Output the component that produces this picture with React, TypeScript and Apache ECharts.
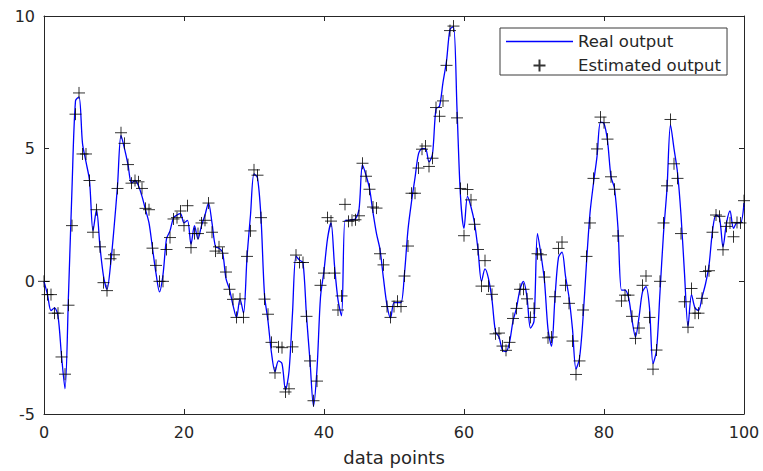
import React, { useEffect, useRef } from "react";
import * as echarts from "echarts";

// Sample spacing along the "data points" axis
const STEP = 0.5;

// Real output (blue line), one value per sample (x = 0, 0.5, ..., 100)
const realOutput = [
  0.0, -0.5, -1.1, -1.0, -1.3, -2.8, -4.05, -0.5, 3.5, 6.8,
  6.95, 5.2, 4.5, 3.8, 1.9, 2.7, 1.3, 0.2, -0.3, 0.6,
  2.0, 3.6, 5.5, 5.0, 4.4, 3.7, 3.8, 3.6, 3.2, 2.7,
  2.2, 1.25, 0.3, -0.4, 0.25, 1.6, 1.9, 2.4, 2.5, 2.55,
  2.2, 2.3, 1.4, 2.1, 1.6, 2.1, 2.5, 2.95, 2.2, 1.3,
  1.25, 1.1, 0.1, -0.3, -0.9, -1.36, -0.66, -1.2, 0.9, 2.5,
  4.05, 3.9, 2.4, -0.5, -1.5, -2.7, -3.4, -3.0, -3.1, -4.1,
  -3.4, -1.2, 0.95, 0.8, 0.7, -1.3, -3.0, -4.7, -3.3, -0.6,
  0.4, 1.6, 2.2, 0.6, -0.7, -1.3, 2.3, 2.3, 2.32, 2.35,
  2.7, 4.4, 4.0, 3.5, 2.6, 1.8, 1.2, 0.1, -0.9, -1.39,
  -0.8, -0.8, -0.8, 0.3, 1.95, 3.0, 3.9, 4.8, 5.0, 5.0,
  4.5, 4.8, 6.5, 6.6, 7.5, 8.3, 9.5, 9.6, 6.5, 3.2,
  2.0, 3.2, 2.8, 2.2, 1.2, 0.0, 0.47, 0.1, -0.7, -1.9,
  -2.1, -2.6, -2.65, -2.3, -1.5, -1.0, -0.3, 0.0, -0.6, -1.76,
  -1.5, 1.8, 1.0, 0.0, -1.8, -2.44, -0.6, 0.9, 1.1, 0.2,
  -0.6, -1.8, -3.3, -2.9, -1.4, 0.7, 2.57, 3.7, 4.7, 6.0,
  5.95, 5.3, 3.94, 3.5, 2.0, -0.33, -0.33, -0.6, -1.45, -2.1,
  -1.35, -0.4, -0.2, -1.0, -3.1, -2.6, -0.4, 1.8, 3.5, 5.9,
  5.0, 4.1, 2.5, 0.3, -1.7, -0.5, -1.0, -1.1, -0.6, -0.1,
  0.6, 1.9, 2.5, 2.4, 1.3, 2.2, 2.65, 2.0, 2.2, 2.2,
  2.95,
];

// Estimated output ("+" markers), one value per sample
const estimatedOutput = [
  0.0, -0.5, -0.5, -1.2, -1.2, -2.85, -3.5, -0.9, 2.1, 6.3,
  7.1, 4.8, 4.8, 3.8, 1.85, 2.7, 1.3, -0.05, -0.35, 0.85,
  1.0, 3.5, 5.6, 5.2, 4.4, 3.7, 3.8, 3.75, 3.5, 2.75,
  2.7, 1.25, 0.6, 0.0, 0.0, 1.2, 1.65, 2.35, 2.4, 2.65,
  2.1, 2.85, 1.27, 1.8, 1.8, 2.2, 2.3, 2.95, 1.85, 1.14,
  1.3, 1.06, 0.35, -0.3, -0.68, -1.36, -0.66, -1.36, 0.94, 1.9,
  4.2, 4.0, 2.4, -0.67, -1.24, -2.3, -3.45, -2.47, -2.5, -4.17,
  -4.05, -2.47, 0.99, 0.71, 0.71, -1.32, -3.0, -4.5, -3.76, -0.15,
  0.31, 2.4, 2.27, 0.31, -1.08, -0.55, 2.9, 2.26, 2.3, 2.32,
  2.47, 4.45, 3.96, 3.47, 2.8, 2.76, 1.04, 0.62, -0.95, -1.36,
  -0.95, -0.75, -0.95, 0.2, 1.33, 3.32, 3.32, 4.27, 4.98, 5.1,
  4.33, 4.64, 6.55, 6.22, 6.8, 8.14, 9.45, 9.62, 6.16, 3.5,
  1.72, 3.46, 3.07, 2.15, 1.2, -0.18, 0.78, -0.18, -0.49, -1.98,
  -1.95, -2.44, -2.6, -2.3, -1.4, -1.02, -0.3, -0.3, -0.66, -1.36,
  -1.02, 1.04, 1.0, 0.16, -2.13, -2.1, -0.58, 1.24, 1.48, -0.15,
  -0.83, -2.25, -3.51, -3.0, -1.08, 0.94, 2.2, 3.88, 4.99, 6.19,
  5.98, 5.36, 3.94, 3.47, 1.71, -0.74, -0.52, -0.52, -1.32, -2.15,
  -1.76, -0.15, 0.2, -1.36, -3.31, -2.59, 0.0, 2.2, 3.6, 6.1,
  4.43, 3.88, 1.8, -0.77, -1.73, -0.27, -1.2, -1.2, -0.64, 0.37,
  0.4, 1.85, 2.5, 2.45, 1.19, 2.07, 2.2, 1.68, 2.22, 2.2,
  3.04,
];

const xTicks = { min: 0, max: 100, interval: 20 };
const yTicks = { min: -5, max: 10, interval: 5 };

const seriesNames = ["Real output", "Estimated output"];
const xAxisTitle = "data points";

const AXIS_COLOR = "#262626";
const LINE_COLOR = "#0000ff";
const FONT = "DejaVu Sans";
const PLUS = "path://M0,6L12,6M6,0L6,12";
const LEGEND_PLUS = "path://M0,0L0,0M67,14L67,14M27.5,7L39.5,7M33.5,1L33.5,13";

export default function App() {
  const ref = useRef<HTMLDivElement>(null);

  useEffect(() => {
    if (!ref.current) return;
    const chart = echarts.init(ref.current, undefined, { renderer: "svg" });

    const realData = realOutput.map((v, i) => [i * STEP, v]);
    const estData = estimatedOutput.map((v, i) => [i * STEP, v]);

    const axisLine = { show: true, onZero: false, lineStyle: { color: AXIS_COLOR, width: 1 } };
    const axisTick = { show: true, inside: true, length: 5, lineStyle: { color: AXIS_COLOR, width: 1 } };

    chart.setOption({
      animation: false,
      backgroundColor: "#ffffff",
      grid: { left: 44, right: 19, top: 16, bottom: 51, containLabel: false },
      legend: {
        orient: "vertical",
        left: 500,
        top: 28,
        padding: [5, 6, 1, 5],
        itemWidth: 67,
        itemHeight: 14,
        itemGap: 7,
        borderColor: "#3a3a3a",
        borderWidth: 1,
        backgroundColor: "#ffffff",
        textStyle: { fontFamily: FONT, fontSize: 16.5, color: AXIS_COLOR, lineHeight: 14 },
        data: [
          {
            name: seriesNames[0],
            itemStyle: { color: "rgba(0,0,0,0)", borderWidth: 0, opacity: 0 },
            lineStyle: { color: LINE_COLOR, width: 1.3 },
          },
          { name: seriesNames[1], icon: LEGEND_PLUS },
        ],
      },
      xAxis: [
        {
          type: "value",
          position: "bottom",
          min: xTicks.min,
          max: xTicks.max,
          interval: xTicks.interval,
          name: xAxisTitle,
          nameLocation: "middle",
          nameGap: 34,
          nameTextStyle: { fontFamily: FONT, fontSize: 18, color: AXIS_COLOR },
          axisLine,
          axisTick,
          splitLine: { show: false },
          axisLabel: { fontFamily: FONT, fontSize: 16, color: AXIS_COLOR, margin: 10 },
        },
        {
          type: "value",
          position: "top",
          min: xTicks.min,
          max: xTicks.max,
          interval: xTicks.interval,
          axisLine,
          axisTick,
          splitLine: { show: false },
          axisLabel: { show: false },
        },
      ],
      yAxis: [
        {
          type: "value",
          position: "left",
          min: yTicks.min,
          max: yTicks.max,
          interval: yTicks.interval,
          axisLine,
          axisTick,
          splitLine: { show: false },
          axisLabel: { fontFamily: FONT, fontSize: 16, color: AXIS_COLOR, margin: 9 },
        },
        {
          type: "value",
          position: "right",
          min: yTicks.min,
          max: yTicks.max,
          interval: yTicks.interval,
          axisLine,
          axisTick,
          splitLine: { show: false },
          axisLabel: { show: false },
        },
      ],
      series: [
        {
          name: seriesNames[0],
          type: "line",
          data: realData,
          showSymbol: false,
          symbol: "none",
          smooth: 0.3,
          lineStyle: { color: LINE_COLOR, width: 1.3 },
          itemStyle: { color: LINE_COLOR },
          z: 2,
        },
        {
          name: seriesNames[1],
          type: "scatter",
          data: estData,
          symbol: PLUS,
          symbolSize: 12,
          itemStyle: { color: "#000000", borderColor: "#000000", borderWidth: 1 },
          z: 3,
        },
      ],
    });

    return () => chart.dispose();
  }, []);

  return (
    <div
      ref={ref}
      style={{ position: "fixed", left: 0, top: 0, width: 763, height: 471 }}
    />
  );
}
